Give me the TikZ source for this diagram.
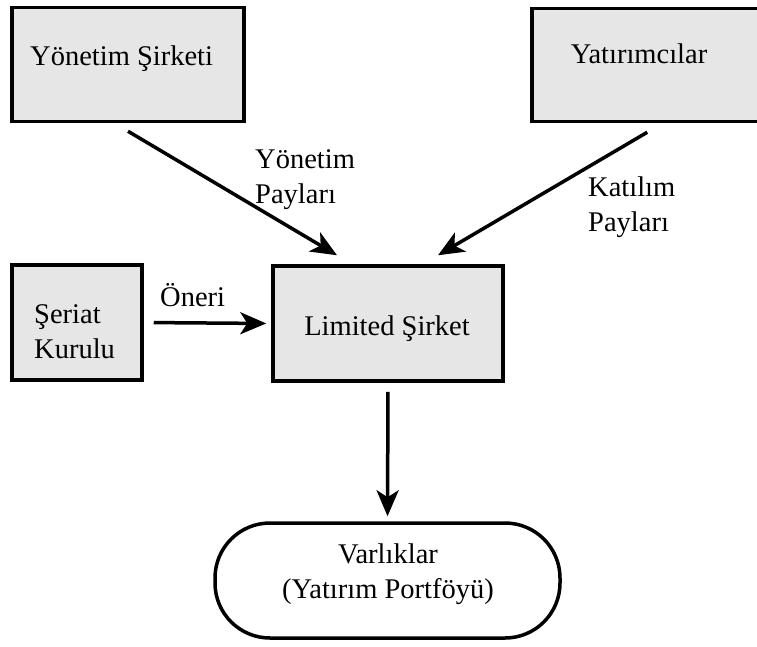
\documentclass[tikz,border=0pt]{standalone}
\usepackage{fontspec}
\setmainfont{Liberation Serif}
\usetikzlibrary{arrows.meta}
\definecolor{boxgray}{RGB}{230,230,230}
\tikzset{
  box/.style={draw=black, line width=3.5pt, fill=boxgray, inner sep=0pt},
  pill/.style={draw=black, line width=3.5pt, fill=white, rounded corners=55pt, inner sep=0pt},
  txt/.style={inner sep=0pt, font=\fontsize{28.5}{35}\selectfont},
  arr/.style={line width=3.5pt, -{Stealth[length=26pt,width=22pt,inset=7pt]}}
}
\begin{document}
\begin{tikzpicture}[x=1pt, y=-1pt]
  \useasboundingbox (0,0) rectangle (757,646);
  \clip (0,0) rectangle (757,646);

  % boxes (the investors' box runs off the right edge)
  \node[box, minimum width=232pt, minimum height=114pt] (b1) at (128,64.5) {};
  \node[box, minimum width=260pt, minimum height=113pt] (b2) at (662,65) {};
  \node[box, minimum width=130pt, minimum height=115pt] (sk) at (77,322.5) {};
  \node[box, minimum width=230pt, minimum height=115pt] (lim) at (388,323.5) {};
  \node[pill, minimum width=345pt, minimum height=115pt] (var) at (387.5,580.5) {};

  % box texts
  \node[txt, anchor=west] (t1) at (30,59) {Yönetim Şirketi};
  \node[txt] (t2) at (639,54) {Yatırımcılar};
  \node[txt, anchor=west, align=left] (t3) at (34,332) {Şeriat\\Kurulu};
  \node[txt] (t4) at (387,329) {Limited Şirket};
  \node[txt, align=center] (t5) at (388,574) {Varlıklar\\(Yatırım Portföyü)};

  % edge labels
  \node[txt, anchor=west, align=left] (l1) at (255,180) {Yönetim\\Payları};
  \node[txt, anchor=west, align=left] (l2) at (588,207) {Katılım\\Payları};
  \node[txt, anchor=west] (l3) at (160,295) {Öneri};

  % connectors
  \draw[arr] ([yshift=-8pt]b1.south) -- ([shift={(-51pt,9pt)}]lim.north);
  \draw[arr] ([shift={(117pt,-9pt)}]b2.south west) -- ([shift={(50pt,9pt)}]lim.north);
  \draw[arr, shorten <=10pt, shorten >=5pt] (sk.east) -- (lim.west);
  \draw[arr, shorten <=9pt, shorten >=5pt] (lim.south) -- (var.north);
\end{tikzpicture}
\end{document}
